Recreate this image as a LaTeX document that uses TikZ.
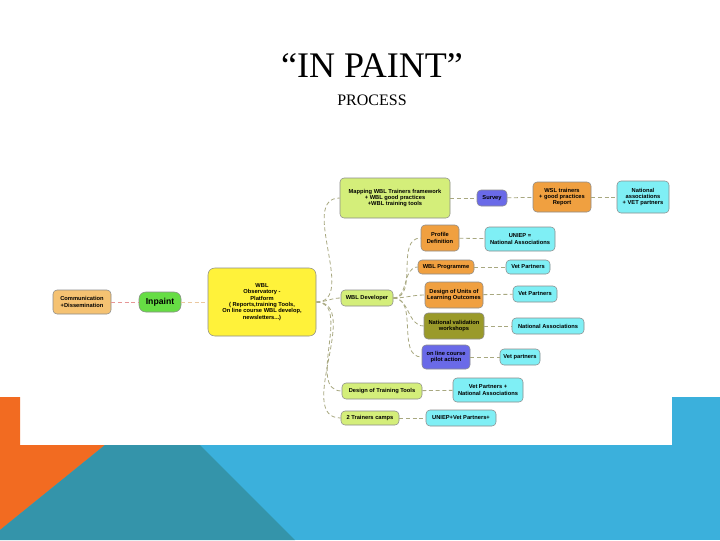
\documentclass[tikz,border=0pt]{standalone}
\usepackage{fontspec}
\setmainfont{Liberation Serif}
\newfontfamily\lsans{Liberation Sans}
\begin{document}
\begin{tikzpicture}[x=0.75pt,y=-0.75pt,
  sz/.style 2 args={minimum width=#1*0.75pt, minimum height=#2*0.75pt},
  box/.style={draw=black!45, line width=0.4pt, rounded corners=3pt, align=center, inner sep=0.5pt, font=\lsans\fontsize{4.3}{4.8}\selectfont\bfseries},
  lg/.style={box, fill=lgreen}, og/.style={box, fill=orng}, cy/.style={box, fill=cyanb},
  bl/.style={box, fill=blueb}, con/.style={draw=olivec, densely dashed, line width=0.6pt}]
\definecolor{lgreen}{HTML}{D4EE7A}\definecolor{orng}{HTML}{F0A040}
\definecolor{cyanb}{HTML}{7FEFF5}\definecolor{blueb}{HTML}{6A6AE8}
\definecolor{olivec}{HTML}{A8A880}
\useasboundingbox (0,0) rectangle (720,540);
\fill[white] (0,0) rectangle (720,540);
\fill[fill={rgb,255:red,59;green,176;blue,220}] (0,397) rectangle (720,540);
\fill[white] (20,397) rectangle (672,445);
\fill[fill={rgb,255:red,242;green,107;blue,33}] (0,397) -- (20,397) -- (20,445) -- (105,445) -- (0,530) -- cycle;
\fill[fill={rgb,255:red,52;green,148;blue,170}] (105,445) -- (200,445) -- (295,540) -- (0,540) -- (0,530) -- cycle;
\node (title) at (372,66) {\fontsize{27}{30}\selectfont “IN PAINT”};
\node (proc) at (372,100) {\fontsize{12}{14}\selectfont PROCESS};
\node[box, fill={rgb,255:red,245;green,194;blue,114}, sz={58}{24}] (comm) at (82,302) {Communication\\+Dissemination};
\node[box, fill={rgb,255:red,102;green,221;blue,68}, sz={42}{20}, rounded corners=5pt, font=\lsans\fontsize{6.5}{7}\selectfont\bfseries] (inp) at (160,302) {Inpaint};
\node[box, fill={rgb,255:red,255;green,242;blue,58}, sz={108}{68}, rounded corners=5pt] (obs) at (262,302) {WBL\\Observatory -\\Platform\\( Reports,training Tools,\\On line course WBL develop,\\newsletters...)};
\node[lg, sz={110}{40}] (map) at (395,198) {Mapping WBL Trainers framework\\+ WBL good practices\\+WBL training tools};
\node[bl, sz={30}{16}] (sur) at (492,198) {Survey};
\node[og, sz={58}{30}] (wsl) at (562,197) {WSL trainers\\+ good practices\\Report};
\node[cy, sz={52}{32}] (nat) at (643,197) {National\\associations\\+ VET partners};
\node[lg, sz={52}{16}] (dev) at (367,298) {WBL Developer};
\node[og, sz={38}{26}] (prof) at (440,238) {Profile\\Definition};
\node[cy, sz={70}{24}] (uni) at (520,239) {UNIEP =\\National Associations};
\node[og, sz={56}{14}] (prog) at (446,267) {WBL Programme};
\node[cy, sz={44}{14}] (vp1) at (528,267) {Vet Partners};
\node[og, sz={58}{26}] (des) at (454,295) {Design of Units of\\Learning Outcomes};
\node[cy, sz={44}{16}] (vp2) at (535,294) {Vet Partners};
\node[box, fill={rgb,255:red,154;green,154;blue,42}, sz={60}{26}] (nvw) at (454,326) {National validation\\workshops};
\node[cy, sz={72}{16}] (na2) at (548,326) {National Associations};
\node[bl, sz={48}{24}] (onl) at (446,357) {on line course\\pilot action};
\node[cy, sz={40}{16}] (vp3) at (520,357) {Vet partners};
\node[lg, sz={80}{16}] (dtt) at (382,391) {Design of Training Tools};
\node[cy, sz={70}{24}] (vpn) at (488,390) {Vet Partners +\\National Associations};
\node[lg, sz={58}{14}] (tc) at (370,418) {2 Trainers camps};
\node[cy, sz={70}{16}] (uvp) at (461,418) {UNIEP+Vet Partners+};
\draw[densely dashed, draw={rgb,255:red,230;green,150;blue,150}, line width=0.6pt] (comm) -- (inp);
\draw[densely dashed, draw={rgb,255:red,235;green,200;blue,160}, line width=0.6pt] (inp) -- (obs);
\foreach \t in {map,dev,dtt,tc} \draw[con] (obs.east) to[out=0,in=180] (\t.west);
\foreach \t in {prof,prog,des,nvw,onl} \draw[con] (dev.east) to[out=0,in=180] (\t.west);
\foreach \a/\b in {map/sur,sur/wsl,wsl/nat,prof/uni,prog/vp1,des/vp2,nvw/na2,onl/vp3,dtt/vpn,tc/uvp} \draw[con] (\a) -- (\b);
\end{tikzpicture}
\end{document}
